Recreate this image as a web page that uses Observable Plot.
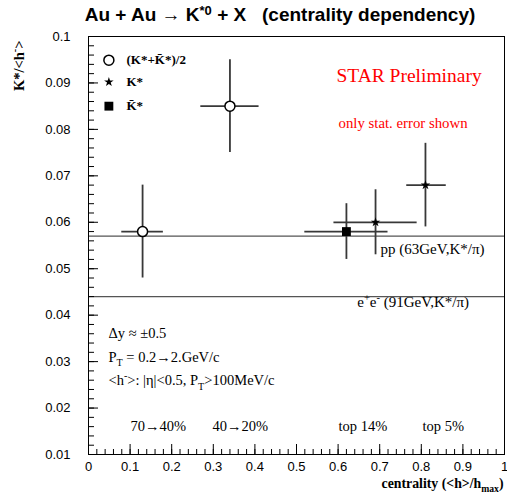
<!DOCTYPE html>
<html>
<head>
<meta charset="utf-8">
<script src="https://cdn.jsdelivr.net/npm/d3@7"></script>
<script src="https://cdn.jsdelivr.net/npm/@observablehq/plot@0.6"></script>
<style>
  body { margin: 0; background: white; }
  #title { width: 507px; height: 30px; box-sizing: border-box; padding-left: 53px; text-align: center;
    font: bold 19px "Liberation Sans", Arial, sans-serif; line-height: 30px; white-space: pre; color: black; }
  #title sup { font-size: 13px; line-height: 0; vertical-align: 0.45em; }
</style>
</head>
<body>
<div id="title">Au + Au → K<sup>*0</sup> + X   (centrality dependency)</div>
<div id="chart"></div>
<script>
// ---- data ----
// (K* + K*bar)/2  (open circles)
const combX = [0.13, 0.34];
const combY = [0.058, 0.085];
const combYErr = [0.010, 0.010];
const combXLo = [0.08, 0.27];
const combXHi = [0.18, 0.41];
// K*  (stars)
const kstarX = [0.69, 0.81];
const kstarY = [0.060, 0.068];
const kstarYErr = [0.007, 0.009];
const kstarXLo = [0.59, 0.765];
const kstarXHi = [0.79, 0.86];
// K*bar (filled square)
const kbarX = [0.62];
const kbarY = [0.058];
const kbarYErr = [0.006];
const kbarXLo = [0.52];
const kbarXHi = [0.72];
// reference lines
const refValues = [0.057, 0.044];
const refLabels = ["pp (63GeV,K*/π)", "e^{+}e^{-} (91GeV,K*/π)"];
// centrality class labels
const classLabels = ["70→40%", "40→20%", "top 14%", "top 5%"];
// legend
const legendLabels = ["(K*+K\u0304*)/2", "K*", "K\u0304*"];
const legendSymbols = ["circle", "star", "square"];
// info text
const infoLines = ["Δy ≈ ±0.5", "P_{T} = 0.2→2.GeV/c", "<h^{-}>: |η|<0.5, P_{T}>100MeV/c"];
// ticks
const xMajor = d3.range(0, 11).map(i => i / 10);
const xMinor = d3.range(0, 51).map(i => i / 50);
const yMajor = d3.range(1, 11).map(i => i / 100);
const yMinor = d3.range(5, 51).map(i => i / 500);

// ---- build tables ----
const mk = (X, Y, YE, XL, XH) => X.map((x, i) => ({x, y: Y[i], y1: Y[i] - YE[i], y2: Y[i] + YE[i], x1: XL[i], x2: XH[i]}));
const comb = mk(combX, combY, combYErr, combXLo, combXHi);
const kstar = mk(kstarX, kstarY, kstarYErr, kstarXLo, kstarXHi);
const kbar = mk(kbarX, kbarY, kbarYErr, kbarXLo, kbarXHi);
const allPts = [...comb, ...kstar, ...kbar];

// annotation layout (data coordinates)
const refLabelPos = [{x: 0.702, y: 0.0542}, {x: 0.646, y: 0.0428}];
const refText = refLabels.map((t, i) => ({text: t, ...refLabelPos[i]}));
const classX = [0.101, 0.298, 0.601, 0.803];
const classText = classLabels.map((t, i) => ({text: t, x: classX[i], y: 0.0161}));
const infoY = [0.036, 0.0309, 0.0259];
const infoText = infoLines.map((t, i) => ({text: t, x: 0.048, y: infoY[i]}));
const legY = [0.0949, 0.0902, 0.085];
const legend = legendLabels.map((t, i) => ({text: t, symbol: legendSymbols[i], x: 0.049, tx: 0.0913, y: legY[i]}));

const serif = "'Liberation Serif', 'Times New Roman', serif";
const barStroke = "#383838";
const fsText = 14.5;

const chart = Plot.plot({
  width: 507, height: 467,
  marginLeft: 88, marginRight: 3, marginTop: 6, marginBottom: 43,
  style: {fontFamily: "'Liberation Sans', Arial, sans-serif", fontSize: "13px", background: "white", color: "black", overflow: "visible"},
  x: {domain: [0, 1], label: null},
  y: {domain: [0.01, 0.1], label: null},
  marks: [
    // reference lines
    Plot.ruleY(refValues, {y: d => d, stroke: "#555", strokeWidth: 1.3}),
    // error bars
    Plot.ruleX(allPts, {x: "x", y1: "y1", y2: "y2", stroke: barStroke, strokeWidth: 1.8}),
    Plot.ruleY(allPts, {y: "y", x1: "x1", x2: "x2", stroke: barStroke, strokeWidth: 1.8}),
    // markers
    Plot.dot(comb, {x: "x", y: "y", r: 5, fill: "white", stroke: "black", strokeWidth: 1.5}),
    Plot.dot(kstar, {x: "x", y: "y", r: 3, symbol: "star", fill: "black", stroke: "none"}),
    Plot.dot(kbar, {x: "x", y: "y", r: 5, symbol: "square", fill: "black", stroke: "none"}),
    // legend
    Plot.dot(legend.filter(d => d.symbol === "circle"), {x: "x", y: "y", r: 5, fill: "white", stroke: "black", strokeWidth: 1.5}),
    Plot.dot(legend.filter(d => d.symbol === "star"), {x: "x", y: "y", r: 3, symbol: "star", fill: "black", stroke: "none"}),
    Plot.dot(legend.filter(d => d.symbol === "square"), {x: "x", y: "y", r: 5, symbol: "square", fill: "black", stroke: "none"}),
    Plot.text(legend, {x: "tx", y: "y", text: "text", textAnchor: "start", lineAnchor: "middle", fontFamily: serif, fontWeight: "bold", fontSize: 13}),
    // annotations
    Plot.text(["STAR Preliminary"], {x: () => 0.596, y: () => 0.0915, text: d => d, textAnchor: "start", lineAnchor: "middle", fill: "red", fontFamily: serif, fontSize: 19.5}),
    Plot.text(["only stat. error shown"], {x: () => 0.601, y: () => 0.0813, text: d => d, textAnchor: "start", lineAnchor: "middle", fill: "red", fontFamily: serif, fontSize: 14.8}),
    Plot.text(refText, {x: "x", y: "y", text: "text", textAnchor: "start", lineAnchor: "middle", fontFamily: serif, fontSize: 15}),
    Plot.text(infoText, {x: "x", y: "y", text: "text", textAnchor: "start", lineAnchor: "middle", fontFamily: serif, fontSize: fsText}),
    Plot.text(classText, {x: "x", y: "y", text: "text", textAnchor: "start", lineAnchor: "middle", fontFamily: serif, fontSize: fsText}),
    // frame
    Plot.frame({stroke: "black", strokeWidth: 1}),
    // axes: labels
    Plot.axisY(yMajor, {anchor: "left", tickSize: 0, tickPadding: 18, tickFormat: d => String(+d.toFixed(3)), label: null}),
    Plot.axisX(xMajor, {anchor: "bottom", tickSize: 0, tickPadding: 7, tickFormat: d => String(+d.toFixed(2)), label: null}),
    // axes: inward ticks (shifted into the frame)
    Plot.axisY(yMinor, {anchor: "left", tickSize: 6, dx: 6, tickFormat: () => "", label: null}),
    Plot.axisY(yMajor, {anchor: "left", tickSize: 10, dx: 10, tickFormat: () => "", label: null}),
    Plot.axisX(xMinor, {anchor: "bottom", tickSize: 5, dy: -5, tickFormat: () => "", label: null}),
    Plot.axisX(xMajor, {anchor: "bottom", tickSize: 10, dy: -10, tickFormat: () => "", label: null}),
    // axis titles
    Plot.text(["K*/<h^{-}>"], {frameAnchor: "top-left", text: d => d, rotate: -90, textAnchor: "end", lineAnchor: "middle", dx: -69, dy: 4, fontFamily: serif, fontWeight: "bold", fontSize: 14.5}),
    Plot.text(["centrality (<h>/h_{max})"], {frameAnchor: "bottom-right", text: d => d, textAnchor: "end", lineAnchor: "bottom", dx: -1, dy: 33, fontFamily: serif, fontWeight: "bold", fontSize: 13.8})
  ]
});

document.getElementById("chart").appendChild(chart);

// rich text: _{sub} and ^{sup}
function richify(root) {
  const ns = "http://www.w3.org/2000/svg";
  root.querySelectorAll("text").forEach(el => {
    if (el.querySelector("tspan")) return;
    const t = el.textContent;
    if (!/[_^]\{/.test(t)) return;
    const fs = parseFloat(getComputedStyle(el).fontSize) || 13;
    const re = /([_^])\{([^}]*)\}/g;
    const parts = [];
    let last = 0, m;
    while ((m = re.exec(t))) {
      if (m.index > last) parts.push({s: t.slice(last, m.index), k: 0});
      parts.push({s: m[2], k: m[1] === "_" ? 1 : -1});
      last = re.lastIndex;
    }
    if (last < t.length) parts.push({s: t.slice(last), k: 0});
    el.textContent = "";
    let shift = 0;
    parts.forEach(p => {
      const ts = document.createElementNS(ns, "tspan");
      const target = p.k === 1 ? 0.3 * fs : p.k === -1 ? -0.4 * fs : 0;
      const dy = target - shift;
      shift = target;
      if (dy) ts.setAttribute("dy", dy);
      if (p.k) ts.setAttribute("font-size", 0.7 * fs);
      ts.textContent = p.s;
      el.appendChild(ts);
    });
  });
}
richify(chart);
</script>
</body>
</html>
